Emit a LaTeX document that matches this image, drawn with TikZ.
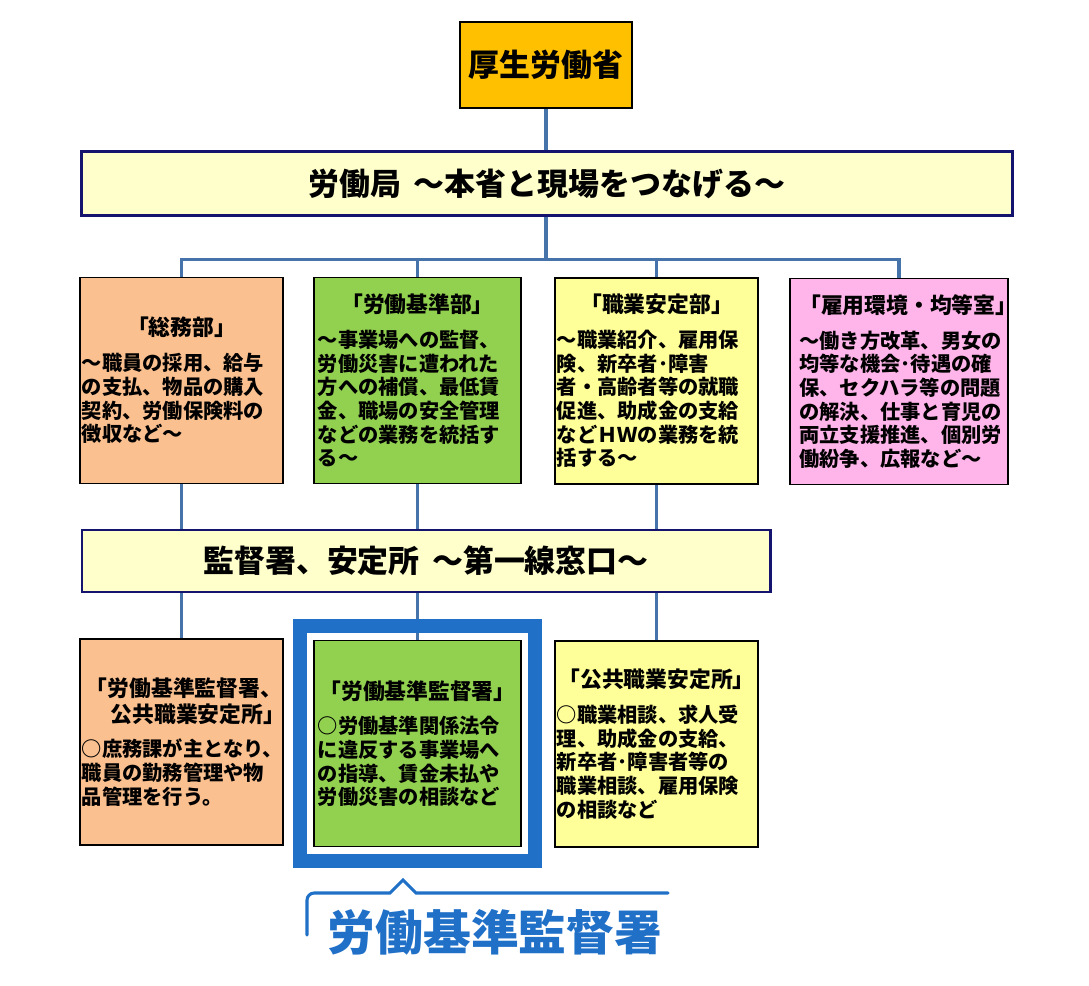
\documentclass[tikz,border=0pt]{standalone}
\usepackage{fontspec}
\setmainfont{Noto Sans CJK JP}
\usepackage{tikz}
\usetikzlibrary{positioning, fit}
\definecolor{MH_ORANGE}{HTML}{FFC000}
\definecolor{MH_CREAM}{HTML}{FFFFCC}
\definecolor{MH_NAVY}{HTML}{14146E}
\definecolor{MH_PEACH}{HTML}{FAC090}
\definecolor{MH_GREEN}{HTML}{92D050}
\definecolor{MH_YELLOW}{HTML}{FFFF99}
\definecolor{MH_PINK}{HTML}{FFB5EA}
\definecolor{MH_LINE}{HTML}{4674AA}
\definecolor{MH_BLUE}{HTML}{2070C8}
\newcommand{\boxhead}[1]{{\centering\fontsize{15.5}{18}\selectfont #1\par}\vspace{0.28cm}}
\tikzset{
  topbox/.style={
    rectangle, draw=black, line width=1.2pt, fill=MH_ORANGE,
    minimum width=4.3cm, minimum height=2.15cm,
    font=\bfseries\fontsize{22}{26}\selectfont},
  band/.style={
    rectangle, draw=MH_NAVY, line width=2pt, fill=MH_CREAM,
    minimum height=1.6cm,
    font=\bfseries\fontsize{22}{26}\selectfont},
  unitbox/.style={
    rectangle, draw=black, line width=1.3pt,
    minimum height=5.15cm, text width=4.98cm, inner sep=0.4mm,
    align=left, font=\bfseries\fontsize{14.4}{16.8}\selectfont},
  conn/.style={draw=MH_LINE, line width=2.2pt},
  hilite/.style={rectangle, draw=MH_BLUE, line width=0.35cm, inner sep=0.33cm},
  callout/.style={draw=MH_BLUE, line width=2.2pt, line cap=round},
}
\begin{document}
\begin{tikzpicture}[x=0.025cm, y=-0.025cm]
  \useasboundingbox (0,0) rectangle (1089,985);

  % ministry and bureau
  \node[topbox] (moh) at (546,65) {厚生労働省};
  \node[band, minimum width=23.25cm] (bureau) at (547,183.5)
    {労働局\hspace{0.4em}〜本省と現場をつなげる〜};

  % departments of the bureau
  \node[unitbox, fill=MH_PEACH, minimum width=5.075cm] (gen) at (181.5,380.5)
    {\boxhead{「総務部」}
     〜職員の採用、給与\\の支払、物品の購入\\契約、労働保険料の\\徴収など〜};
  \node[unitbox, fill=MH_GREEN, minimum width=5.175cm] (std) at (417.5,380.5)
    {\boxhead{「労働基準部」}
     〜事業場への監督、\\労働災害に遭われた\\方への補償、最低賃\\金、職場の安全管理\\などの業務を統括す\\る〜};
  \node[unitbox, fill=MH_YELLOW, minimum width=4.975cm] (emp) at (656.5,381)
    {\boxhead{「職業安定部」}
     〜職業紹介、雇用保\\険、新卒者･障害\\者・高齢者等の就職\\促進、助成金の支給\\などＨＷの業務を統\\括する〜};
  \node[unitbox, fill=MH_PINK, minimum width=5.45cm] (eq) at (899,381.5)
    {\boxhead{「雇用環境・均等室」}
     〜働き方改革、男女の\\均等な機会･待遇の確\\保、セクハラ等の問題\\の解決、仕事と育児の\\両立支援推進、個別労\\働紛争、広報など〜};

  % local offices
  \node[band, minimum width=17.2cm, minimum height=1.55cm] (office) at (426,561)
    {監督署、安定所\hspace{0.4em}〜第一線窓口〜};

  \node[unitbox, fill=MH_PEACH, minimum width=5.075cm] (gen2) at (181.5,742)
    {{\fontsize{15.5}{18}\selectfont
     \hspace*{0.1cm}「労働基準監督署、\\
     \hspace*{0.72cm}公共職業安定所」\par}\vspace{0.28cm}
     ○庶務課が主となり、\\職員の勤務管理や物\\品管理を行う。};
  \node[unitbox, fill=MH_GREEN, minimum width=5.175cm] (std2) at (417.5,743.5)
    {\boxhead{「労働基準監督署」}
     ○労働基準関係法令\\に違反する事業場へ\\の指導、賃金未払や\\労働災害の相談など};
  \node[unitbox, fill=MH_YELLOW, minimum width=4.975cm] (emp2) at (656.5,744)
    {\boxhead{「公共職業安定所」}
     ○職業相談、求人受\\理、助成金の支給、\\新卒者･障害者等の\\職業相談、雇用保険\\の相談など};

  % connectors
  \draw[conn] (moh.south) -- (moh.south |- bureau.north);
  \path (bureau.south -| moh.south) ++(0,43) coordinate (bus);
  \draw[conn] (bureau.south -| moh.south) -- (bus);
  \draw[conn] (bus) -| (gen);
  \draw[conn] (bus) -| (std);
  \draw[conn] (bus) -| (emp);
  \draw[conn] (bus) -| (eq);
  \draw[conn] (gen.south) -- (gen.south |- office.north);
  \draw[conn] (std.south) -- (std.south |- office.north);
  \draw[conn] (emp.south) -- (emp.south |- office.north);
  \draw[conn] (gen2.north |- office.south) -- (gen2.north);
  \draw[conn] (std2.north |- office.south) -- (std2.north);
  \draw[conn] (emp2.north |- office.south) -- (emp2.north);

  % highlight and label
  \node[hilite, fit=(std2)] (frame) {};
  \node[text=MH_BLUE, font=\bfseries\fontsize{34}{40}\selectfont] (lab) at (495,932)
    {労働基準監督署};
  \draw[callout] (307,935) [rounded corners=0.18cm] -- (307,893) [sharp corners]
    -- (390,893) -- (403,880) -- (416,893) -- (668,893);

\end{tikzpicture}
\end{document}
